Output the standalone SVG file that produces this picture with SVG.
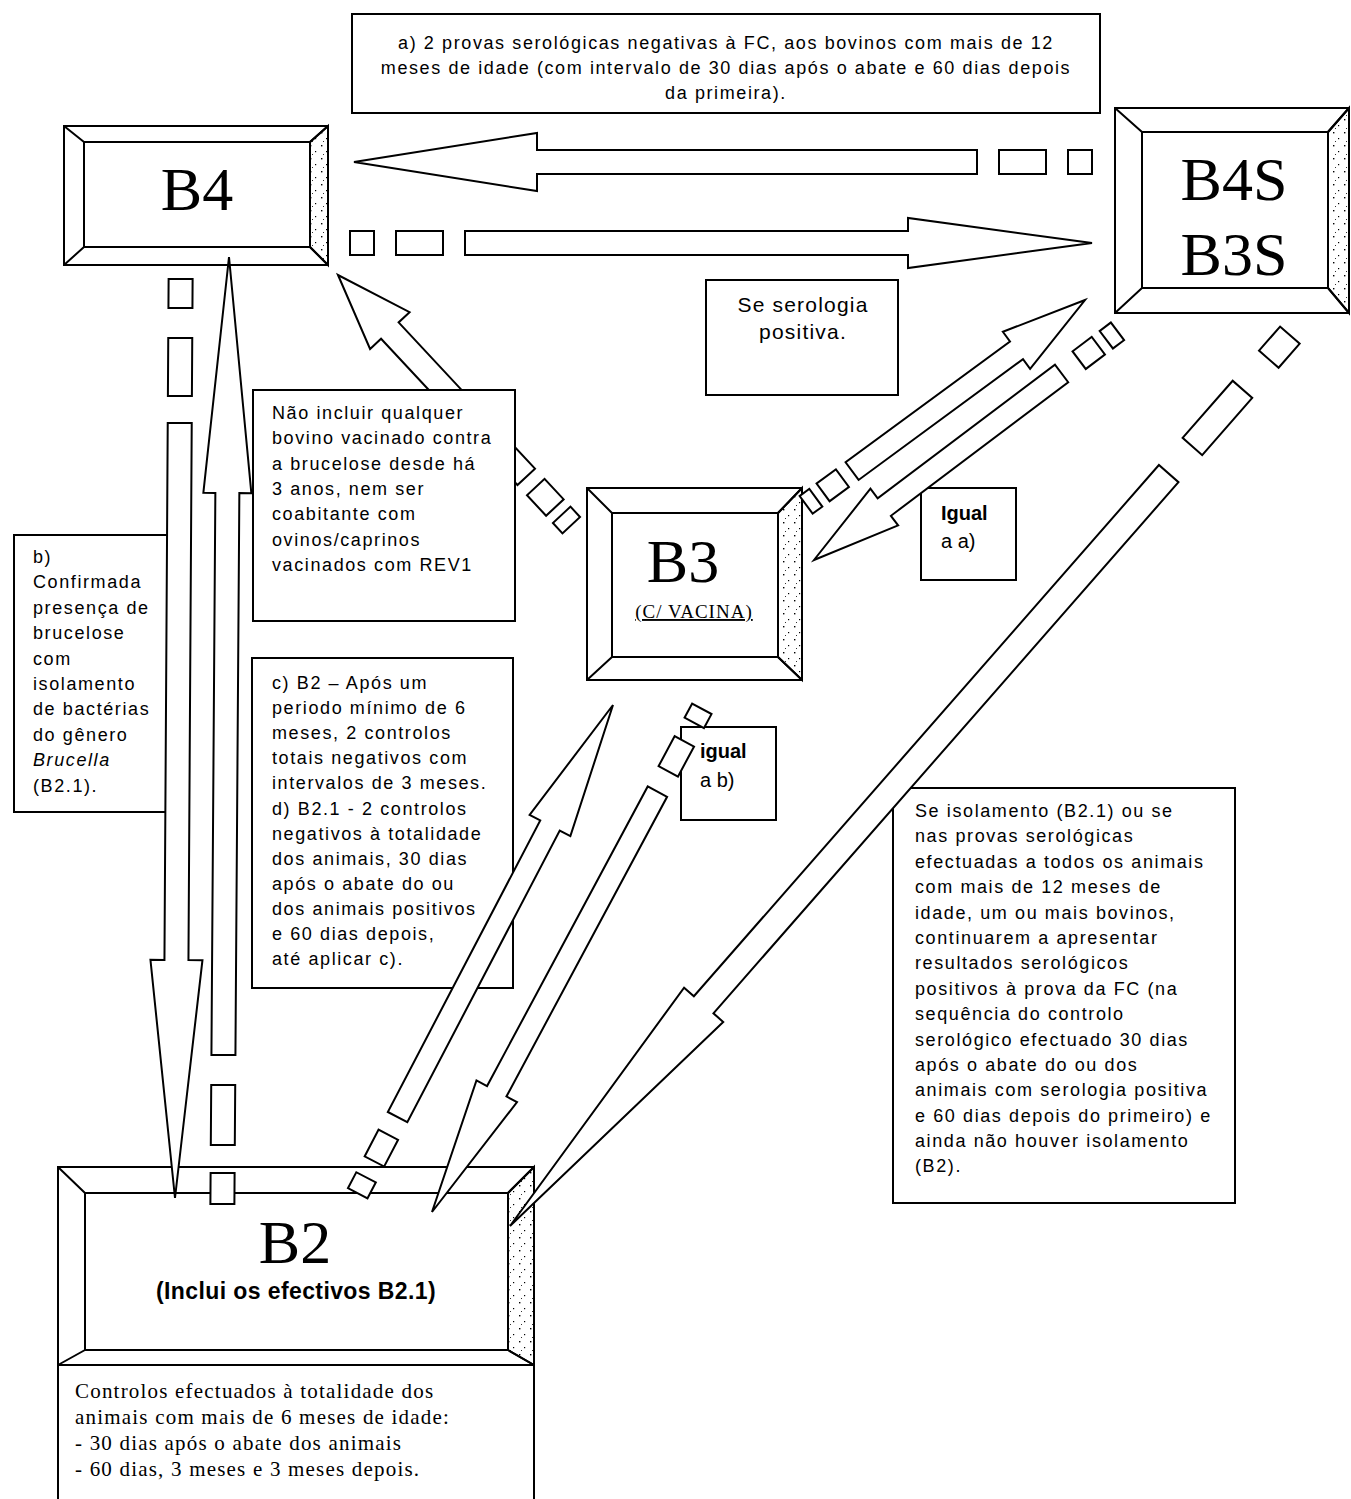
<svg xmlns="http://www.w3.org/2000/svg" width="1351" height="1499" viewBox="0 0 1351 1499">
<style>
.bx{fill:#fff;stroke:#000;stroke-width:2}
.ln{fill:none;stroke:#000;stroke-width:2}
.bev{fill:url(#stip);stroke:#000;stroke-width:2}
.ar{fill:#fff;stroke:#000;stroke-width:2;stroke-linejoin:miter}
.t{font-family:"Liberation Sans",Arial,sans-serif;font-size:18px;letter-spacing:1.6px;fill:#000}
.tb{font-family:"Liberation Sans",Arial,sans-serif;font-size:20px;font-weight:bold;fill:#000}
.tl{font-family:"Liberation Sans",Arial,sans-serif;font-size:20px;fill:#000}
.ts{font-family:"Liberation Sans",Arial,sans-serif;font-size:21px;letter-spacing:1.2px;fill:#000}
.big{font-family:"Liberation Serif","Times New Roman",serif;font-size:62px;fill:#000;text-anchor:middle}
.ser{font-family:"Liberation Serif","Times New Roman",serif;font-size:21px;letter-spacing:1.2px;fill:#000}
</style>
<defs>
<pattern id="stip" width="11" height="13" patternUnits="userSpaceOnUse">
<rect width="11" height="13" fill="#fff"/>
<rect x="2" y="2" width="1.4" height="1.4" fill="#000"/>
<rect x="7" y="8" width="1.2" height="1.2" fill="#000"/>
<rect x="4" y="11" width="1" height="1" fill="#333"/>
</pattern>
</defs>
<rect width="1351" height="1499" fill="#fff"/>

<g id="note-a">
<rect class="bx" x="352" y="14" width="748" height="99"/>
<text class="t" text-anchor="middle" x="726" y="49">a) 2 provas serológicas negativas à FC, aos bovinos com mais de 12</text>
<text class="t" text-anchor="middle" x="726" y="74">meses de idade (com intervalo de 30 dias após o abate e 60 dias depois</text>
<text class="t" text-anchor="middle" x="726" y="99">da primeira).</text>
</g>

<g id="note-serologia">
<rect class="bx" x="706" y="280" width="192" height="115"/>
<text class="ts" text-anchor="middle" x="803" y="312">Se serologia</text>
<text class="ts" text-anchor="middle" x="803" y="339">positiva.</text>
</g>

<g id="note-b">
<rect class="bx" x="14" y="535" width="154" height="277"/>
<text class="t" x="33" y="563">b)</text>
<text class="t" x="33" y="588">Confirmada</text>
<text class="t" x="33" y="614">presença de</text>
<text class="t" x="33" y="639">brucelose</text>
<text class="t" x="33" y="665">com</text>
<text class="t" x="33" y="690">isolamento</text>
<text class="t" x="33" y="715">de bactérias</text>
<text class="t" x="33" y="741">do gênero</text>
<text class="t" x="33" y="766" font-style="italic">Brucella</text>
<text class="t" x="33" y="792">(B2.1).</text>
</g>

<g id="note-cd">
<rect class="bx" x="252" y="658" width="261" height="330"/>
<text class="t" x="272" y="689">c) B2 – Após um</text>
<text class="t" x="272" y="714">periodo mínimo de 6</text>
<text class="t" x="272" y="739">meses, 2 controlos</text>
<text class="t" x="272" y="764">totais negativos com</text>
<text class="t" x="272" y="789">intervalos de 3 meses.</text>
<text class="t" x="272" y="815"> d) B2.1 - 2 controlos</text>
<text class="t" x="272" y="840">negativos à totalidade</text>
<text class="t" x="272" y="865">dos animais,  30 dias</text>
<text class="t" x="272" y="890">após o abate do ou</text>
<text class="t" x="272" y="915">dos animais positivos</text>
<text class="t" x="272" y="940">e 60 dias depois,</text>
<text class="t" x="272" y="965">até aplicar c).</text>
</g>

<g id="note-igual-a">
<rect class="bx" x="921" y="488" width="95" height="92"/>
<text class="tb" x="941" y="520">Igual</text>
<text class="tl" x="941" y="548">a a)</text>
</g>

<g id="note-igual-b">
<rect class="bx" x="681" y="727" width="95" height="93"/>
<text class="tb" x="700" y="758">igual</text>
<text class="tl" x="700" y="787">a b)</text>
</g>

<g id="note-isolamento">
<rect class="bx" x="893" y="788" width="342" height="415"/>
<text class="t" x="915" y="817">Se isolamento (B2.1) ou se</text>
<text class="t" x="915" y="842">nas provas serológicas</text>
<text class="t" x="915" y="868">efectuadas a todos os animais</text>
<text class="t" x="915" y="893">com mais de 12 meses de</text>
<text class="t" x="915" y="919">idade, um ou mais bovinos,</text>
<text class="t" x="915" y="944">continuarem a apresentar</text>
<text class="t" x="915" y="969">resultados serológicos</text>
<text class="t" x="915" y="995">positivos à prova da FC (na</text>
<text class="t" x="915" y="1020">sequência do controlo</text>
<text class="t" x="915" y="1046">serológico efectuado 30 dias</text>
<text class="t" x="915" y="1071">após o abate do ou dos</text>
<text class="t" x="915" y="1096">animais com serologia positiva</text>
<text class="t" x="915" y="1122">e 60 dias depois do primeiro) e</text>
<text class="t" x="915" y="1147">ainda não houver isolamento</text>
<text class="t" x="915" y="1172">(B2).</text>
</g>

<g id="node-B4">
<rect class="bx" x="64" y="126" width="264" height="139"/>
<polygon class="bev" points="328,126 310,142 310,247 328,265"/>
<rect class="ln" x="84" y="142" width="226" height="105"/>
<path class="ln" d="M64,126 L84,142 M328,126 L310,142 M64,265 L84,247 M328,265 L310,247"/>
<text class="big" x="197" y="210">B4</text>
</g>

<g id="node-B4S-B3S">
<rect class="bx" x="1115" y="108" width="234" height="205"/>
<polygon class="bev" points="1349,108 1328,132 1328,288 1349,313"/>
<rect class="ln" x="1142" y="132" width="186" height="156"/>
<path class="ln" d="M1115,108 L1142,132 M1349,108 L1328,132 M1115,313 L1142,288 M1349,313 L1328,288"/>
<text class="big" x="1234" y="200">B4S</text>
<text class="big" x="1234" y="275">B3S</text>
</g>

<g id="node-B3">
<rect class="bx" x="587" y="488" width="215" height="192"/>
<polygon class="bev" points="802,488 778,513 778,657 802,680"/>
<rect class="ln" x="612" y="513" width="166" height="144"/>
<path class="ln" d="M587,488 L612,513 M802,488 L778,513 M587,680 L612,657 M802,680 L778,657"/>
<text class="big" x="683" y="582">B3</text>
<text x="694" y="618" text-anchor="middle" text-decoration="underline" style="font-family:'Liberation Serif','Times New Roman',serif;font-size:19px;letter-spacing:1px">(C/ VACINA)</text>
</g>

<g id="node-B2">
<rect class="bx" x="58" y="1167" width="476" height="198"/>
<polygon class="bev" points="534,1167 508,1193 508,1350 534,1365"/>
<rect class="ln" x="85" y="1193" width="423" height="157"/>
<path class="ln" d="M58,1167 L85,1193 M534,1167 L508,1193 M58,1365 L85,1350 M534,1365 L508,1350"/>
<text class="big" x="295" y="1263">B2</text>
<text x="296" y="1299" text-anchor="middle" style="font-family:'Liberation Sans',Arial,sans-serif;font-size:23px;font-weight:bold;letter-spacing:0.4px">(Inclui os efectivos B2.1)</text>
<rect class="bx" x="58" y="1365" width="476" height="140"/>
<text class="ser" x="75" y="1398">Controlos efectuados à totalidade dos</text>
<text class="ser" x="75" y="1424">animais com mais de 6 meses de idade:</text>
<text class="ser" x="75" y="1450">- 30 dias após o abate dos animais</text>
<text class="ser" x="75" y="1476">- 60 dias, 3 meses e 3 meses depois.</text>
</g>

<g id="connectors">
<g id="arrow-B4S-B4" transform="translate(354,162) rotate(180)">
<polygon class="ar" points="0,0 -183,-29 -183,-12 -623,-12 -623,12 -183,12 -183,29"/>
<rect class="ar" x="-692" y="-12" width="47" height="24"/>
<rect class="ar" x="-738" y="-12" width="24" height="24"/>
</g>
<g id="arrow-B4-B4S" transform="translate(1092,243)">
<polygon class="ar" points="0,0 -184,-25 -184,-12 -627,-12 -627,12 -184,12 -184,25"/>
<rect class="ar" x="-696" y="-12" width="47" height="24"/>
<rect class="ar" x="-742" y="-12" width="24" height="24"/>
</g>
<g id="arrow-B4-B2" transform="translate(175,1198) rotate(90.35)">
<polygon class="ar" points="0,0 -238,-26 -238,-12 -775,-12 -775,12 -238,12 -238,26"/>
<rect class="ar" x="-860" y="-12" width="58" height="24"/>
<rect class="ar" x="-919" y="-12" width="29" height="24"/>
</g>
<g id="arrow-B2-B4" transform="translate(229,257) rotate(-89.6)">
<polygon class="ar" points="0,0 -236,-24 -236,-12 -798,-12 -798,12 -236,12 -236,24"/>
<rect class="ar" x="-888" y="-12" width="60" height="24"/>
<rect class="ar" x="-947" y="-12" width="31" height="24"/>
</g>
<g id="arrow-B3-B4" transform="translate(338,275) rotate(-133)">
<polygon class="ar" points="0,0 -76,-27 -76,-12 -276,-12 -276,12 -76,12 -76,27"/>
<rect class="ar" x="-318" y="-12" width="28" height="24"/>
<rect class="ar" x="-342" y="-12" width="14" height="24"/>
</g>
<g id="arrow-B3-B4S" transform="translate(1085,300) rotate(-36.3)">
<polygon class="ar" points="0,0 -85,-23 -85,-11 -289,-11 -289,11 -85,11 -85,23"/>
<rect class="ar" x="-325" y="-11" width="24" height="22"/>
<rect class="ar" x="-346" y="-11" width="12" height="22"/>
</g>
<g id="arrow-B4S-B3" transform="translate(814,560) rotate(143)">
<polygon class="ar" points="0,0 -88,-23 -88,-11 -310,-11 -310,11 -88,11 -88,23"/>
<rect class="ar" x="-356" y="-11" width="24" height="22"/>
<rect class="ar" x="-380" y="-11" width="14" height="22"/>
</g>
<g id="arrow-B2-B3" transform="translate(613,705) rotate(-62.4)">
<polygon class="ar" points="0,0 -136,-23 -136,-11 -465,-11 -465,11 -136,11 -136,23"/>
<rect class="ar" x="-515" y="-11" width="30" height="22"/>
<rect class="ar" x="-551" y="-11" width="18" height="22"/>
</g>
<g id="arrow-B3-B2" transform="translate(432,1212) rotate(118.2)">
<polygon class="ar" points="0,0 -137,-23 -137,-11 -477,-11 -477,11 -137,11 -137,23"/>
<rect class="ar" x="-534" y="-11" width="34" height="22"/>
<rect class="ar" x="-571" y="-11" width="16" height="22"/>
</g>
<g id="arrow-B4S-B2" transform="translate(510,1226) rotate(131.2)">
<polygon class="ar" points="0,0 -294,-26 -294,-13 -1000,-13 -1000,13 -294,13 -294,26"/>
<rect class="ar" x="-1112" y="-13" width="76" height="26"/>
<rect class="ar" x="-1184" y="-13" width="32" height="26"/>
</g>
</g>

<g id="note-vacinado">
<rect class="bx" x="253" y="390" width="262" height="231"/>
<text class="t" x="272" y="419">Não incluir qualquer</text>
<text class="t" x="272" y="444">bovino vacinado contra</text>
<text class="t" x="272" y="470">a brucelose desde há</text>
<text class="t" x="272" y="495">3 anos, nem ser</text>
<text class="t" x="272" y="520">coabitante com</text>
<text class="t" x="272" y="546">ovinos/caprinos</text>
<text class="t" x="272" y="571">vacinados com REV1</text>
</g>
</svg>
